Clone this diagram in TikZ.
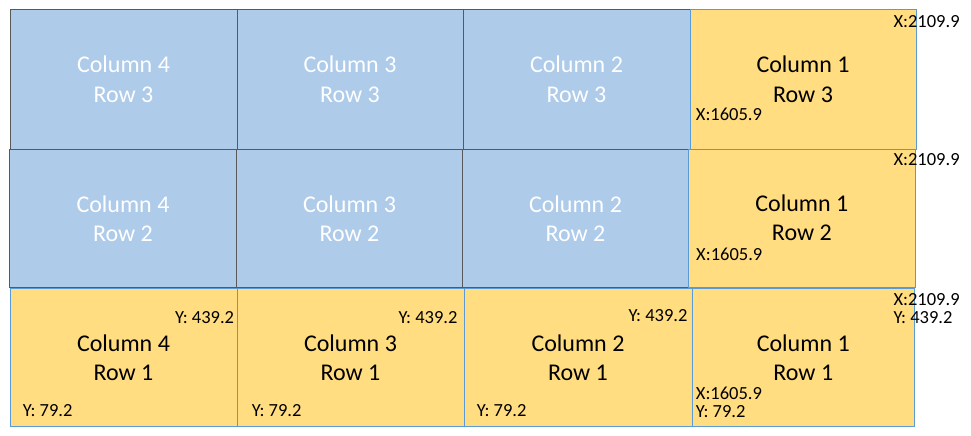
\documentclass[tikz,border=0pt]{standalone}
\usepackage{fontspec}
\setmainfont{Carlito}
\definecolor{cellblue}{RGB}{174,203,234}
\definecolor{cellyellow}{RGB}{255,221,128}
\definecolor{edgeblue}{RGB}{91,155,213}
\definecolor{edgegray}{RGB}{89,89,89}
\tikzset{
  cellbase/.style={rectangle, inner sep=0pt, line width=1pt, align=center,
    font=\fontsize{24}{29}\selectfont},
  bluecell/.style={cellbase, fill=cellblue, draw=edgegray, text=white},
  yellowcell/.style={cellbase, fill=cellyellow, draw=edgeblue, text=black},
  coordlabel/.style={inner sep=0pt, font=\fontsize{18.5}{17.6}\selectfont, text=black, align=left}
}
\newcommand{\cellbox}[6]{% style, name, x1, y1, x2, y2, text via next
  \node[#1, minimum width={(#5-#3)*1pt}, minimum height={(#6-#4)*1pt}] (#2) at ({(#3+#5)/2},{(#4+#6)/2})}
\begin{document}
\begin{tikzpicture}[x=1pt,y=-1pt]
\useasboundingbox (0,0) rectangle (971,436);
% row 3
\cellbox{bluecell}{cfourrthree}{10}{9.5}{237}{149} {Column 4\\Row 3};
\cellbox{bluecell}{cthreerthree}{237}{9.5}{463}{149} {Column 3\\Row 3};
\cellbox{bluecell}{ctworthree}{463}{9.5}{690}{149} {Column 2\\Row 3};
% row 2
\cellbox{bluecell}{cfourrtwo}{9.5}{149.3}{236.5}{287.7} {Column 4\\Row 2};
\cellbox{bluecell}{cthreertwo}{236.5}{149.3}{462.5}{287.7} {Column 3\\Row 2};
\cellbox{bluecell}{ctwortwo}{462.5}{149.3}{688.5}{287.7} {Column 2\\Row 2};
% yellow cells
\cellbox{yellowcell}{conerthree}{690}{9.5}{916}{149} {Column 1\\Row 3};
\cellbox{yellowcell}{conertwo}{688.5}{149.3}{915.3}{287} {Column 1\\Row 2};
\cellbox{yellowcell}{cfourrone}{10}{288.3}{237}{426.7} {Column 4\\Row 1};
\cellbox{yellowcell}{cthreerone}{237}{288.3}{464}{426.7} {Column 3\\Row 1};
\cellbox{yellowcell}{ctworone}{464}{288.3}{692}{426.7} {Column 2\\Row 1};
\cellbox{yellowcell}{conerone}{692}{288.3}{914.5}{426.7} {Column 1\\Row 1};
% coordinate labels
\node[coordlabel, anchor=base west] (lathree) at (893.3,27.3) {X:2109.9};
\node[coordlabel, anchor=base west] (lbthree) at (695.7,120) {X:1605.9};
\node[coordlabel, anchor=base west] (latwo) at (893.3,165) {X:2109.9};
\node[coordlabel, anchor=base west] (lbtwo) at (696,260) {X:1605.9};
\node[coordlabel, anchor=base west] (laone) at (893.3,323.3) {X:2109.9\\Y: 439.2};
\node[coordlabel, anchor=base west] (lbone) at (695.7,417.3) {X:1605.9\\Y: 79.2};
\node[coordlabel, anchor=base east] (lcfour) at (234.3,323.3) {Y: 439.2};
\node[coordlabel, anchor=base west] (ldfour) at (22.7,416.7) {Y: 79.2};
\node[coordlabel, anchor=base east] (lcthree) at (457.7,323.3) {Y: 439.2};
\node[coordlabel, anchor=base west] (ldthree) at (251.7,416.7) {Y: 79.2};
\node[coordlabel, anchor=base east] (lctwo) at (687.7,321.7) {Y: 439.2};
\node[coordlabel, anchor=base west] (ldtwo) at (476.7,416.7) {Y: 79.2};
\end{tikzpicture}
\end{document}
